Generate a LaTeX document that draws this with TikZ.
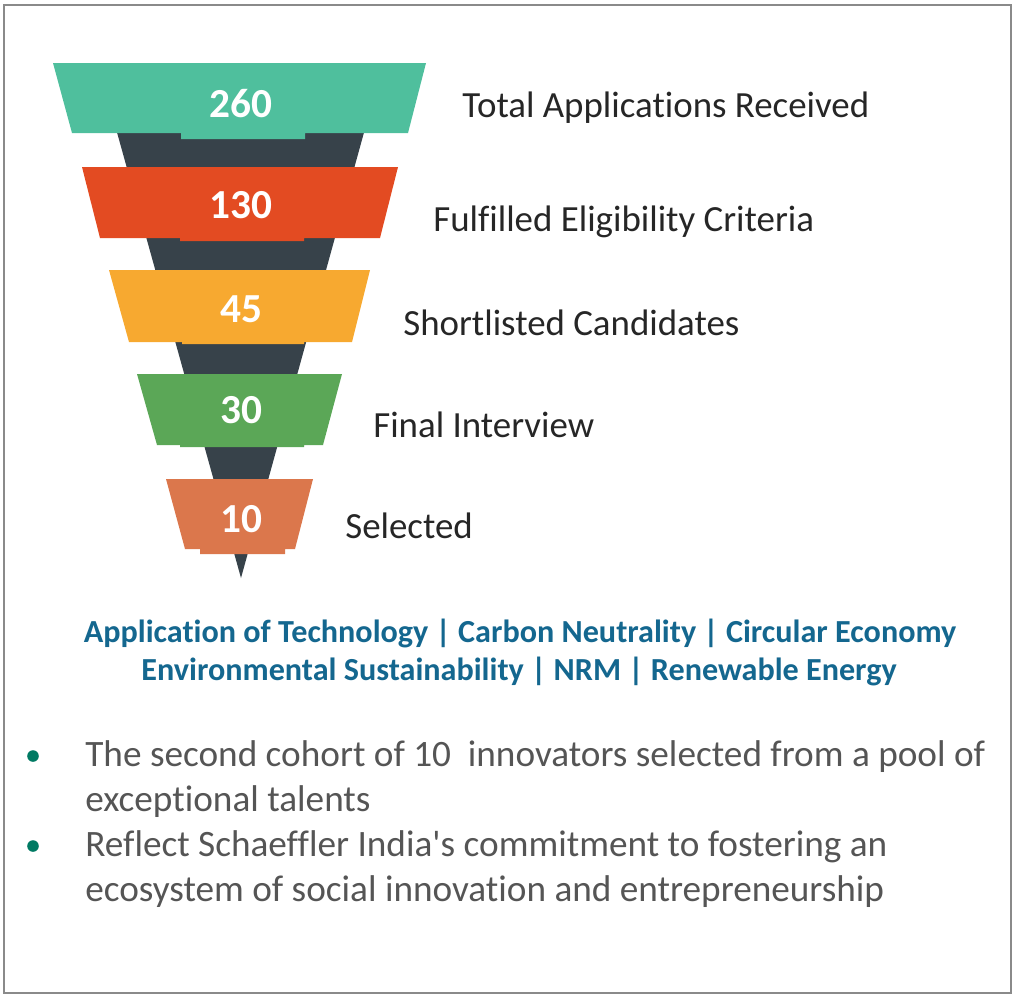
\documentclass[tikz,border=0pt]{standalone}
\usepackage{fontspec}
\setmainfont{Carlito}[Ligatures={TeX,NoCommon}]
\definecolor{framegray}{HTML}{8A8A8A}
\definecolor{conegray}{HTML}{37424A}
\definecolor{stageA}{HTML}{4FBF9D}
\definecolor{stageB}{HTML}{E34B22}
\definecolor{stageC}{HTML}{F7A930}
\definecolor{stageD}{HTML}{5BA757}
\definecolor{stageE}{HTML}{DB774C}
\definecolor{labelgray}{HTML}{262626}
\definecolor{topicblue}{HTML}{14678F}
\definecolor{bodygray}{HTML}{555555}
\definecolor{dotgreen}{HTML}{007A63}
\begin{document}
\begin{tikzpicture}[x=0.02cm,y=-0.02cm]
  \tikzset{num/.style={text=white,inner sep=0,anchor=base,font=\bfseries\fontsize{23.5}{28}\selectfont},
    stage/.style={text=labelgray,inner sep=0,anchor=base west,font=\fontsize{21}{25}\selectfont},
    topic/.style={text=topicblue,inner sep=0,anchor=base,font=\bfseries\fontsize{18.3}{22}\selectfont},
    body/.style={text=bodygray,inner sep=0,anchor=base west,font=\fontsize{21.2}{25}\selectfont},
    dot/.style={circle,fill=dotgreen,inner sep=0,minimum size=6.6pt}}
  \useasboundingbox (0,0) rectangle (1013,995);
  \draw[framegray,line width=1.1pt] (4,5) rectangle (1011,993);
  %cone
  \fill[conegray] (113,118) -- (368,118) -- (241,578) -- cycle;
  %stages
  \fill[stageA] (53,63) -- (426,63) -- (408,133) -- (305,133) |- (181,139) -- (181,133) -- (72,133) -- cycle;
  \fill[stageB] (82,167) -- (398,167) -- (380,238) -- (304,238) |- (180,241) -- (180,238) -- (100,238) -- cycle;
  \fill[stageC] (109,270) -- (370,270) -- (352,342) -- (304,342) |- (182,344) -- (182,342) -- (129,342) -- cycle;
  \fill[stageD] (137,374) -- (342,374) -- (323,445) -- (304,445) |- (180,447) -- (180,445) -- (157,445) -- cycle;
  \fill[stageE] (166,479) -- (313,479) -- (295,549) -- (285,549) |- (200,554) -- (200,549) -- (185,549) -- cycle;
  %counts
  \node[num] (n260) at (241,117) {260};
  \node[num] (n130) at (241,218) {130};
  \node[num] (n45) at (241,322) {45};
  \node[num] (n30) at (241,423) {30};
  \node[num] (n10) at (241,532) {10};
  %stage names
  \node[stage] (total) at (462,117) {Total Applications Received};
  \node[stage] (eligible) at (433,231) {Fulfilled Eligibility Criteria};
  \node[stage] (shortlist) at (403,335) {Shortlisted Candidates};
  \node[stage] (interview) at (373,437) {Final Interview};
  \node[stage] (selected) at (345,538) {Selected};
  %focus areas
  \node[topic] (topicsA) at (520,642) {Application of Technology | Carbon Neutrality | Circular Economy};
  \node[topic] (topicsB) at (519,680) {Environmental Sustainability | NRM | Renewable Energy};
  %notes
  \node[dot] (dotA) at (33,756) {};
  \node[body] (noteA) at (85,766) {The second cohort of 10~ innovators selected from a pool of};
  \node[body] (noteAx) at (85,811) {exceptional talents};
  \node[dot] (dotB) at (33,846) {};
  \node[body] (noteB) at (85,856) {Reflect Schaeffler India\textquotesingle s commitment to fostering an};
  \node[body] (noteBx) at (85,901) {ecosystem of social innovation and entrepreneurship};
\end{tikzpicture}
\end{document}
